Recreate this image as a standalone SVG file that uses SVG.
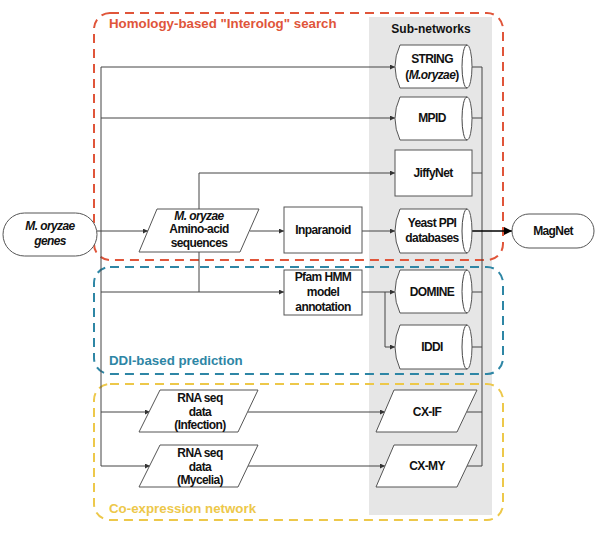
<svg xmlns="http://www.w3.org/2000/svg" width="595" height="539" viewBox="0 0 595 539">
<defs>
<marker id="ar" viewBox="0 0 6 6" refX="6" refY="3" markerWidth="5" markerHeight="5" orient="auto" markerUnits="userSpaceOnUse"><path d="M0,0 L6,3 L0,6 Z" fill="#333"/></marker>
<marker id="arb" viewBox="0 0 10 10" refX="10" refY="5" markerWidth="8" markerHeight="8" orient="auto" markerUnits="userSpaceOnUse"><path d="M0,0 L10,5 L0,10 Z" fill="#000"/></marker>
<style>
.n{fill:#fff;stroke:#555;stroke-width:1}
.t{font-family:"Liberation Sans",Arial,sans-serif;font-size:12px;font-weight:bold;fill:#111;text-anchor:middle;letter-spacing:-0.6px}
.c{fill:none;stroke:#444;stroke-width:1}
.ca{fill:none;stroke:#444;stroke-width:1;marker-end:url(#ar)}
.g{fill:none;stroke-width:2;stroke-dasharray:9 6}
.gt{font-family:"Liberation Sans",Arial,sans-serif;font-size:13.3px;font-weight:bold}
.st{font-family:"Liberation Sans",Arial,sans-serif;font-size:12px;font-weight:bold;fill:#111;text-anchor:middle}
</style>
</defs>
<rect x="369" y="17" width="123" height="498" fill="#e6e6e6"/>
<text x="431" y="33" class="st">Sub-networks</text>
<g id="groups">
<rect x="94" y="13" width="409" height="247" rx="16" class="g" stroke="#E0553A"/>
<rect x="94" y="267" width="409" height="107" rx="16" class="g" stroke="#2E86A5"/>
<rect x="94" y="384" width="409" height="136" rx="16" class="g" stroke="#EDC84A"/>
<text x="109" y="28" class="gt" fill="#E0553A">Homology-based "Interolog" search</text>
<text x="109" y="365" class="gt" fill="#2E86A5">DDI-based prediction</text>
<text x="109" y="513" class="gt" fill="#EDC84A">Co-expression network</text>
</g>
<g id="connectors">
<path class="c" d="M101,67 V466"/>
<path class="ca" d="M101,67 H395"/>
<path class="ca" d="M101,118 H395"/>
<path class="ca" d="M97,231 H148"/>
<path class="c" d="M101,292 H199 V173"/>
<path class="ca" d="M199,173 H395"/>
<path class="ca" d="M199,292 H284"/>
<path class="ca" d="M250,231 H284"/>
<path class="ca" d="M362,231 H395"/>
<path class="ca" d="M362,292 H395"/>
<path class="ca" d="M385,292 V347 H395"/>
<path class="ca" d="M101,412 H150"/>
<path class="ca" d="M101,466 H150"/>
<path class="ca" d="M248,412 H385"/>
<path class="ca" d="M248,466 H385"/>
<path class="c" d="M482,67 V466"/>
<path class="c" d="M467,67 H482 M467,118 H482 M472,173 H482 M467,292 H482 M467,347 H482 M467,412 H482 M467,466 H482"/>
<path d="M467,231 H512" stroke="#000" stroke-width="1.6" fill="none" marker-end="url(#arb)"/>
</g>
<g id="genes">
<rect x="3" y="213" width="94" height="43" rx="21.5" class="n"/>
<text class="t" x="50" y="230" font-style="italic">M. oryzae</text>
<text class="t" x="50" y="245" font-style="italic">genes</text>
</g>
<g id="aminoacid">
<path class="n" d="M157,209 H259 L240,252 H139 Z"/>
<text class="t" x="199" y="220" font-style="italic">M. oryzae</text>
<text class="t" x="199" y="233">Amino-acid</text>
<text class="t" x="199" y="247">sequences</text>
</g>
<g id="inparanoid">
<rect x="284" y="207" width="78" height="46" class="n"/>
<text class="t" x="323" y="234">Inparanoid</text>
</g>
<g id="pfam">
<rect x="284" y="270" width="78" height="45" class="n"/>
<text class="t" x="323" y="281">Pfam HMM</text>
<text class="t" x="323" y="296">model</text>
<text class="t" x="323" y="311">annotation</text>
</g>
<g id="string">
<path class="n" d="M400,45 H467 A5,21.5 0 0 1 467,88 H400 Q390,66.5 400,45 Z"/>
<path class="c" d="M467,45 A5,21.5 0 0 0 467,88"/>
<text class="t" x="432" y="63">STRING</text>
<text class="t" x="432" y="79">(<tspan font-style="italic">M.oryzae</tspan>)</text>
</g>
<g id="mpid">
<path class="n" d="M400,97 H467 A5,21.5 0 0 1 467,140 H400 Q390,118.5 400,97 Z"/>
<path class="c" d="M467,97 A5,21.5 0 0 0 467,140"/>
<text class="t" x="432" y="122">MPID</text>
</g>
<g id="jiffynet">
<rect x="395" y="150" width="77" height="46" class="n"/>
<text class="t" x="433" y="177">JiffyNet</text>
</g>
<g id="yeast">
<path class="n" d="M400,209 H467 A5,22 0 0 1 467,253 H400 Q390,231 400,209 Z"/>
<path class="c" d="M467,209 A5,22 0 0 0 467,253"/>
<text class="t" x="432" y="227">Yeast PPI</text>
<text class="t" x="432" y="242">databases</text>
</g>
<g id="domine">
<path class="n" d="M400,270 H467 A5,21.5 0 0 1 467,313 H400 Q390,291.5 400,270 Z"/>
<path class="c" d="M467,270 A5,21.5 0 0 0 467,313"/>
<text class="t" x="432" y="296">DOMINE</text>
</g>
<g id="iddi">
<path class="n" d="M400,325 H467 A5,22 0 0 1 467,369 H400 Q390,347 400,325 Z"/>
<path class="c" d="M467,325 A5,22 0 0 0 467,369"/>
<text class="t" x="432" y="351">IDDI</text>
</g>
<g id="magnet">
<rect x="512" y="214" width="82" height="34" rx="17" class="n"/>
<text class="t" x="553" y="235">MagNet</text>
</g>
<g id="rnainf">
<path class="n" d="M160,390 H258 L238,432 H139 Z"/>
<text class="t" x="200" y="402">RNA seq</text>
<text class="t" x="200" y="416">data</text>
<text class="t" x="200" y="429">(Infection)</text>
</g>
<g id="rnamyc">
<path class="n" d="M160,445 H258 L238,487 H139 Z"/>
<text class="t" x="200" y="457">RNA seq</text>
<text class="t" x="200" y="471">data</text>
<text class="t" x="200" y="484">(Mycelia)</text>
</g>
<g id="cxif">
<path class="n" d="M394,390 H477 L457,432 H376 Z"/>
<text class="t" x="427" y="416">CX-IF</text>
</g>
<g id="cxmy">
<path class="n" d="M394,445 H477 L457,487 H376 Z"/>
<text class="t" x="427" y="470">CX-MY</text>
</g>
</svg>
